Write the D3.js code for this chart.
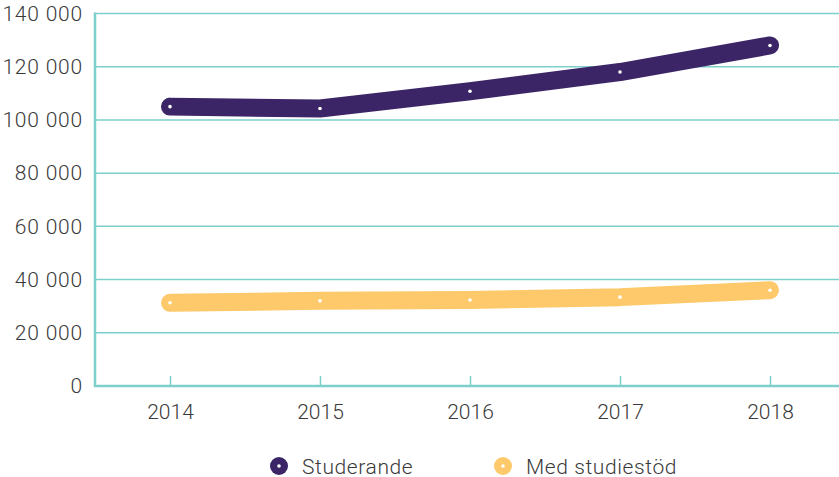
<!DOCTYPE html>
<html>
<head>
<meta charset="utf-8">
<script src="https://cdn.jsdelivr.net/npm/d3@7"></script>
<style>
  body { margin: 0; background: #fff; }
  svg { display: block; }
  svg text { font-family: Roboto, sans-serif; font-weight: 300; font-size: 21px; fill: #3a3a3a; }
</style>
</head>
<body>
<div id="chart"></div>
<script>
// data
var years = ["2014", "2015", "2016", "2017", "2018"];
var studerande = [105000, 104300, 110800, 118000, 128000];
var medStudiestod = [31300, 32000, 32300, 33400, 36000];
var yTicks = [0, 20000, 40000, 60000, 80000, 100000, 120000, 140000];
var seriesNames = ["Studerande", "Med studiestöd"];
var seriesColors = ["#3b2566", "#fdc96a"];

var width = 839, height = 477;
var margin = {top: 13.5, left: 95, bottom: 91};
var plotBottom = height - margin.bottom;

var svg = d3.select("#chart")
    .append("svg")
    .attr("width", width)
    .attr("height", height);

var x = d3.scalePoint()
    .domain(years)
    .range([margin.left, margin.left + 750])
    .padding(0.5);

var y = d3.scaleLinear()
    .domain([0, 140000])
    .range([plotBottom, margin.top]);

var fmt = d3.formatLocale({decimal: ",", thousands: " ", grouping: [3], currency: ["", " kr"]}).format(",d");

var teal = "#7dcfcb";

// gridlines
svg.append("g")
    .selectAll("line")
    .data(yTicks.filter(d => d > 0))
    .enter()
    .append("line")
    .attr("x1", margin.left)
    .attr("x2", width)
    .attr("y1", d => y(d))
    .attr("y2", d => y(d))
    .attr("stroke", teal)
    .attr("stroke-width", 1.5);

// y axis
var yAxis = svg.append("g")
    .attr("transform", "translate(" + margin.left + ",0)")
    .call(d3.axisLeft(y).tickValues(yTicks).tickFormat(fmt).tickSize(0).tickPadding(12));
yAxis.select(".domain").remove();
yAxis.attr("font-family", null).attr("font-size", null);
yAxis.selectAll("text").style("letter-spacing", "0.8px");

svg.append("line")
    .attr("x1", margin.left)
    .attr("x2", margin.left)
    .attr("y1", margin.top - 1)
    .attr("y2", plotBottom + 1)
    .attr("stroke", teal)
    .attr("stroke-width", 2.5);

// x axis
var xAxis = svg.append("g")
    .attr("transform", "translate(0," + plotBottom + ")")
    .call(d3.axisBottom(x).tickSize(-10).tickPadding(18));
xAxis.select(".domain").remove();
xAxis.attr("font-family", null).attr("font-size", null);
xAxis.selectAll(".tick line")
    .attr("stroke", teal)
    .attr("stroke-width", 1.5);

svg.append("line")
    .attr("x1", margin.left - 1)
    .attr("x2", width)
    .attr("y1", plotBottom)
    .attr("y2", plotBottom)
    .attr("stroke", teal)
    .attr("stroke-width", 2.5);

// lines
var line = d3.line()
    .x((d, i) => x(years[i]))
    .y(d => y(d));

[studerande, medStudiestod].forEach(function(values, k) {
    svg.append("path")
        .datum(values)
        .attr("d", line)
        .attr("fill", "none")
        .attr("stroke", seriesColors[k])
        .attr("stroke-width", 18)
        .attr("stroke-linecap", "round")
        .attr("stroke-linejoin", "round");

    svg.append("g")
        .selectAll("circle")
        .data(values)
        .enter()
        .append("circle")
        .attr("cx", (d, i) => x(years[i]))
        .attr("cy", d => y(d))
        .attr("r", 1.8)
        .attr("fill", "#fff");
});

// legend
var legendX = [279, 503];
var legend = svg.append("g")
    .selectAll("g")
    .data(seriesNames)
    .enter()
    .append("g")
    .attr("transform", (d, i) => "translate(" + legendX[i] + ",466)");

legend.append("circle")
    .attr("r", 9)
    .attr("fill", (d, i) => seriesColors[i]);
legend.append("circle")
    .attr("r", 1.8)
    .attr("fill", "#fff");
legend.append("text")
    .attr("x", 23)
    .attr("y", 7.5)
    .style("letter-spacing", "0.6px")
    .text(d => d);
</script>
</body>
</html>
